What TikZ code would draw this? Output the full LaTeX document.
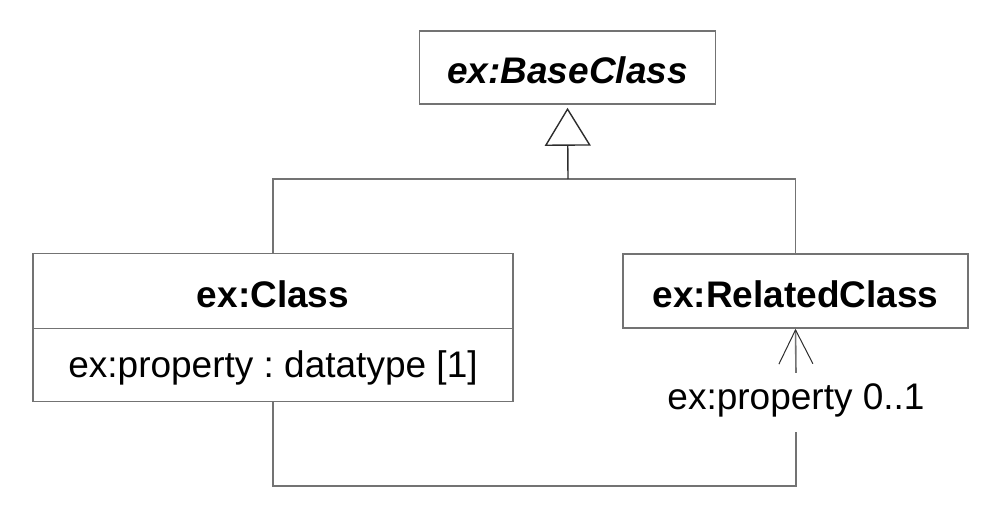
\documentclass[tikz,border=0pt]{standalone}
\usepackage{fontspec}
\setmainfont{Liberation Sans}
\usetikzlibrary{arrows.meta}
\definecolor{linegray}{RGB}{115,115,115}
\definecolor{darkline}{RGB}{45,45,45}
\frenchspacing
\begin{document}
\begin{tikzpicture}[x=1pt,y=-1pt,
  box/.style={draw=linegray, line width=1.6pt, inner sep=0pt, text depth=0pt, text height=32pt,
    font=\fontsize{37}{44}\selectfont\bfseries},
  attr/.style={draw=linegray, line width=1.6pt, inner sep=0pt, text depth=0pt, text height=25pt,
    font=\fontsize{37}{44}\selectfont},
  lbl/.style={inner sep=0pt, text height=36pt, text depth=23pt, font=\fontsize{37}{44}\selectfont},
  conn/.style={draw=linegray, line width=1.6pt},
  gen/.style={draw=darkline, line width=1.4pt, -{Triangle[open, length=38pt, width=46pt]}, shorten >=3pt},
  assoc/.style={draw=linegray, line width=1.6pt, -{Straight Barb[length=34pt, width=34pt, color=darkline, line width=1pt]}}
]
\useasboundingbox (0,0) rectangle (999,524);
\node[box, minimum width=296pt, minimum height=73pt, font=\fontsize{37}{44}\selectfont\bfseries\itshape] (base) at (567.5,67.5) {ex:BaseClass};
\node[box, minimum width=480pt, minimum height=75pt] (cls) at (273,291) {ex:Class};
\node[attr, minimum width=480pt, minimum height=73pt] (clsattr) at (273,365) {ex:property : datatype [1]};
\node[box, minimum width=345pt, minimum height=74pt] (rel) at (795.5,291) {ex:RelatedClass};
\node[lbl, anchor=base] (lbl) at (796,409) {ex:property 0..1};
\coordinate (j) at (568,179);
\coordinate (bot) at (0,486);
\draw[conn] (cls.north) -- (cls.north |- j) -- (rel.north |- j) -- (rel.north);
\draw[gen] (j) -- (base.south);
\draw[conn] (clsattr.south) |- (lbl.south |- bot) -- (lbl.south);
\draw[assoc] (lbl.north) -- (rel.south);
\end{tikzpicture}
\end{document}
